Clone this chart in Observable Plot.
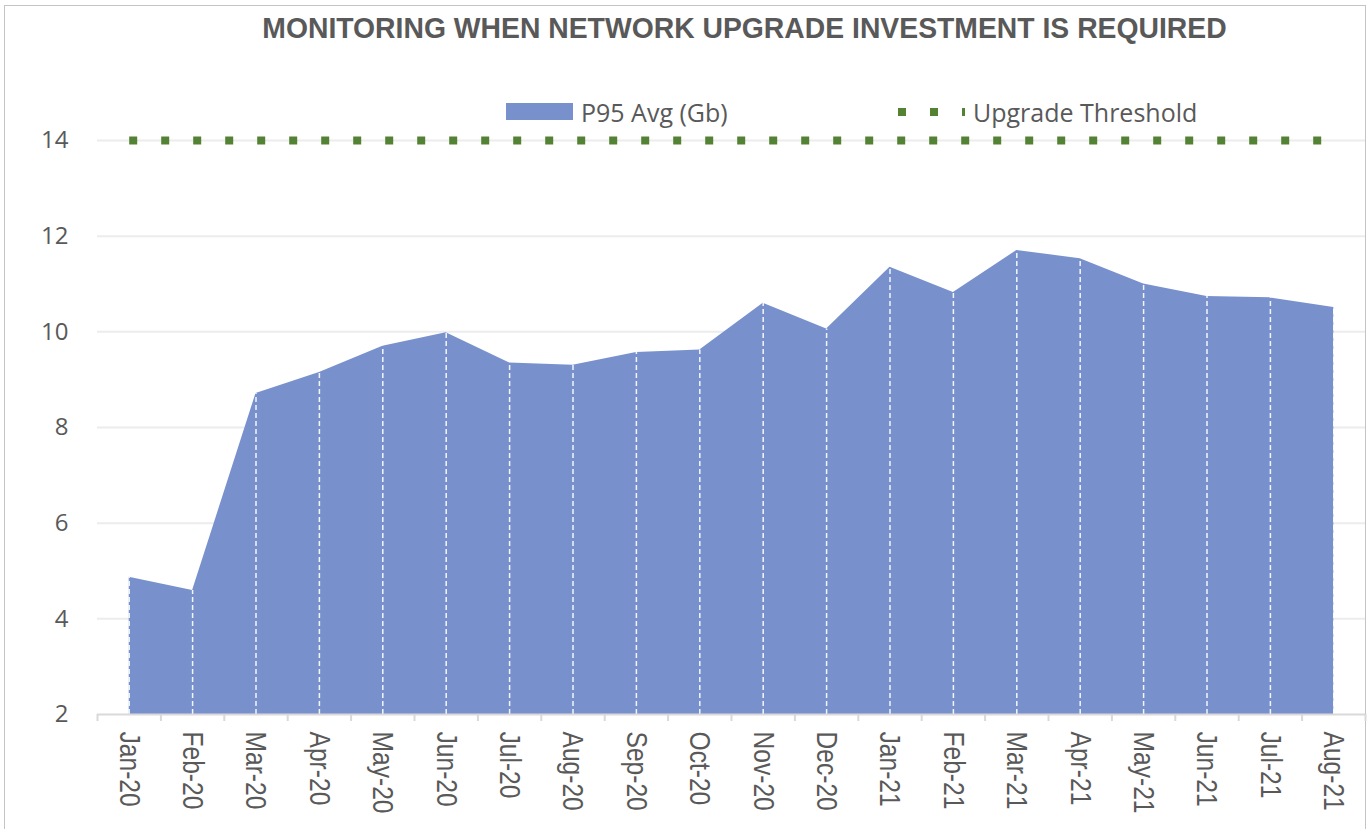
<!DOCTYPE html>
<html>
<head>
<meta charset="utf-8">
<script src="https://cdn.jsdelivr.net/npm/d3@7"></script>
<script src="https://cdn.jsdelivr.net/npm/@observablehq/plot@0.6"></script>
<style>
  html, body { margin: 0; padding: 0; background: #fff; }
  #wrap { position: relative; width: 1367px; height: 829px; overflow: hidden; }
  #frame { position: absolute; left: 4px; top: 5px; width: 1362px; height: 840px; border: 1.5px solid #c4c4c4; box-sizing: border-box; }
  #title { position: absolute; left: 122px; width: 1245px; top: 10px; text-align: center;
    font-family: "Liberation Sans", Arial, sans-serif; font-weight: bold;
    font-size: 29px; color: #595959; line-height: 36px; white-space: nowrap;
    transform: scaleX(0.977); transform-origin: 622px 50%; }
  .leg { position: absolute; font-family: "Open Sans", sans-serif; font-size: 25px; color: #595959; line-height: 30px; white-space: nowrap; }
  .sw { position: absolute; }
  #chart { position: absolute; left: 0; top: 0; }
</style>
</head>
<body>
<div id="wrap">
  <div id="frame"></div>
  <div id="title">MONITORING WHEN NETWORK UPGRADE INVESTMENT IS REQUIRED</div>
  <div class="sw" style="left:506px;top:103px;width:67px;height:17px;background:#7891CD"></div>
  <div class="leg" id="leg1" style="left:581px;top:97px;">P95 Avg (Gb)</div>
  <div class="sw" style="left:898px;top:108px;width:8px;height:8px;background:#548235"></div>
  <div class="sw" style="left:930px;top:108px;width:8px;height:8px;background:#548235"></div>
  <div class="sw" style="left:962px;top:108px;width:3px;height:8px;background:#548235"></div>
  <div class="leg" id="leg2" style="left:973px;top:97px;">Upgrade Threshold</div>
  <div id="chart"></div>
</div>
<script>
const months = ["Jan-20","Feb-20","Mar-20","Apr-20","May-20","Jun-20","Jul-20","Aug-20","Sep-20","Oct-20",
  "Nov-20","Dec-20","Jan-21","Feb-21","Mar-21","Apr-21","May-21","Jun-21","Jul-21","Aug-21"];
const p95Avg = [4.87, 4.59, 8.71, 9.15, 9.70, 9.98, 9.35, 9.30, 9.57, 9.62,
  10.60, 10.06, 11.35, 10.82, 11.70, 11.53, 11.00, 10.74, 10.71, 10.51];
const upgradeThreshold = [14,14,14,14,14,14,14,14,14,14,14,14,14,14,14,14,14,14,14,14];
const yTicks = [2, 4, 6, 8, 10, 12, 14];

const data = months.map((m, i) => ({i, month: m, value: p95Avg[i], threshold: upgradeThreshold[i]}));
const idx = d3.range(months.length);
const bounds = d3.range(months.length + 1).map(k => k - 0.5);

const chart = Plot.plot({
  width: 1367,
  height: 829,
  marginTop: 140,
  marginBottom: 115,
  marginLeft: 97,
  marginRight: 2,
  style: {background: "transparent", color: "#595959", fontFamily: "Open Sans, sans-serif", overflow: "visible"},
  x: {type: "linear", domain: [-0.5, months.length - 0.5], label: null},
  y: {domain: [2, 14], label: null},
  marks: [
    Plot.gridY(yTicks.filter(v => v > 2), {stroke: "#ececec", strokeOpacity: 1, strokeWidth: 2}),
    Plot.areaY(data, {x: "i", y1: 2, y2: "value", fill: "#7891CD", curve: "linear"}),
    Plot.ruleX(data, {x: "i", y1: 2, y2: "value", stroke: "#ffffff", strokeWidth: 1.5, strokeDasharray: "5,3", strokeOpacity: 0.9}),
    Plot.lineY(data, {x: "i", y: "threshold", stroke: "#548235", strokeWidth: 8, strokeDasharray: "8,24", strokeLinecap: "butt"}),
    Plot.ruleY([2], {stroke: "#d9d9d9", strokeWidth: 2}),
    Plot.axisX(bounds, {tickSize: 7, tickFormat: () => "", stroke: "#d9d9d9", strokeWidth: 2}),
    Plot.axisX(idx, {tickSize: 0, tickPadding: 17, tickRotate: 90, tickFormat: i => months[i],
      fontSize: 30, fill: "#595959", fontFamily: "Liberation Sans, Arial, sans-serif"}),
    Plot.axisY(yTicks, {tickSize: 0, tickPadding: 29, fontSize: 24, fill: "#595959", fontFamily: "Open Sans, sans-serif"})
  ]
});
// condense the month labels along their reading direction (narrow typeface look)
d3.select(chart).selectAll("text")
  .filter(function () { return months.includes(this.textContent); })
  .each(function () {
    const t = this.getAttribute("transform") || "";
    this.setAttribute("transform", t + " scale(0.82,1)");
  });
document.getElementById("chart").appendChild(chart);
</script>
</body>
</html>
